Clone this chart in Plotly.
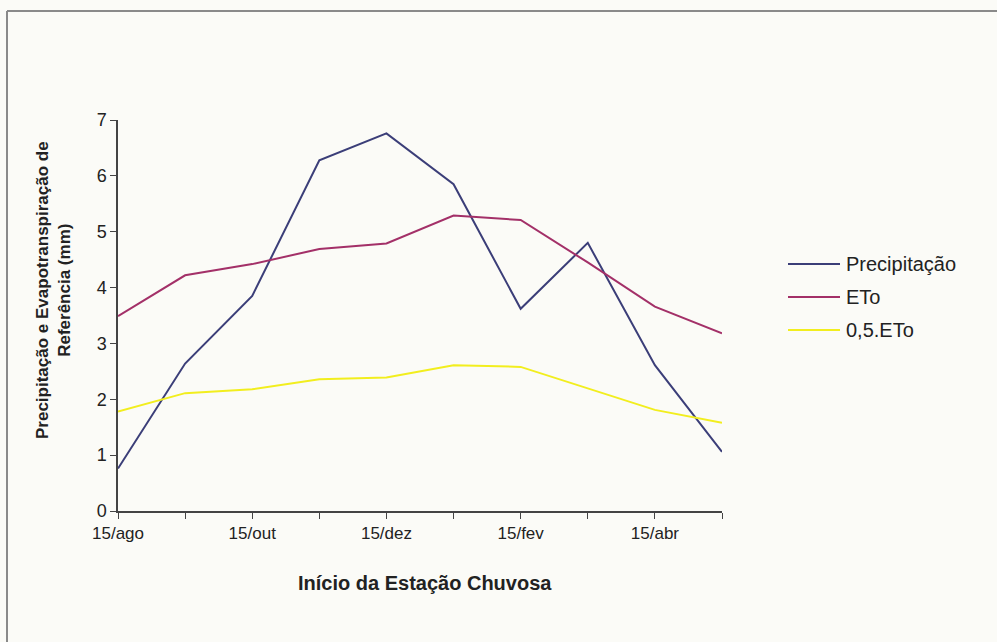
import plotly.graph_objects as go

# Início da estação chuvosa (dia 15 de cada mês)
categorias = ["15/ago", "15/set", "15/out", "15/nov", "15/dez",
              "15/jan", "15/fev", "15/mar", "15/abr", "15/mai"]
rotulos_eixo = ["15/ago", "", "15/out", "", "15/dez", "", "15/fev", "", "15/abr", ""]

precipitacao = [0.76, 2.64, 3.85, 6.28, 6.76, 5.85, 3.62, 4.80, 2.61, 1.06]
eto = [3.49, 4.22, 4.42, 4.69, 4.79, 5.29, 5.21, 4.45, 3.66, 3.18]
meia_eto = [1.78, 2.11, 2.18, 2.36, 2.39, 2.61, 2.58, 2.20, 1.81, 1.58]

posicoes = list(range(len(categorias)))
fonte = "Liberation Sans, Arial, sans-serif"
fundo = "#fbfbf7"
texto = "#222222"

# área de plotagem em pixels
L, R, T, B = 118, 722, 120, 511
W, H = R - L, B - T


def px_x(p):
    return (p - L) / W


def px_y(p):
    return (B - p) / H


series = [
    ("Precipitação", precipitacao, "#3b3e78"),
    ("ETo", eto, "#a33068"),
    ("0,5.ETo", meia_eto, "#f2ee1e"),
]

fig = go.Figure()
for nome, valores, cor in series:
    fig.add_trace(go.Scatter(
        x=posicoes, y=valores, name=nome, mode="lines",
        line=dict(color=cor, width=2), showlegend=False,
    ))

# legenda desenhada à direita do gráfico
formas = []
notas = []
linhas_legenda = [264, 297, 330]
for (nome, _, cor), yl in zip(series, linhas_legenda):
    formas.append(dict(type="line", xref="paper", yref="paper",
                       x0=px_x(788), x1=px_x(840), y0=px_y(yl), y1=px_y(yl),
                       line=dict(color=cor, width=2)))
    notas.append(dict(text=nome, xref="paper", yref="paper",
                      x=px_x(844), y=px_y(yl), showarrow=False,
                      xanchor="left", yanchor="middle",
                      font=dict(family=fonte, size=20, color=texto)))

# moldura (bordas superior e esquerda)
formas += [
    dict(type="line", xref="paper", yref="paper",
         x0=px_x(7), x1=px_x(997), y0=px_y(11), y1=px_y(11),
         line=dict(color="#8a8a8a", width=2)),
    dict(type="line", xref="paper", yref="paper",
         x0=px_x(7), x1=px_x(7), y0=px_y(11), y1=px_y(642),
         line=dict(color="#8a8a8a", width=2)),
]

notas += [
    dict(text="<b>Início da Estação Chuvosa</b>", xref="paper", yref="paper",
         x=px_x(425), y=px_y(583), showarrow=False,
         xanchor="center", yanchor="middle",
         font=dict(family=fonte, size=20, color=texto)),
    dict(text="<b>Precipitação e Evapotranspiração de<br>Referência (mm)</b>",
         xref="paper", yref="paper",
         x=px_x(53), y=px_y(290), showarrow=False,
         textangle=-90, xanchor="center", yanchor="middle",
         font=dict(family=fonte, size=17, color=texto)),
]

fig.update_layout(
    width=997, height=642,
    margin=dict(l=L, r=997 - R, t=T, b=642 - B),
    paper_bgcolor=fundo, plot_bgcolor=fundo,
    font=dict(family=fonte, size=17, color=texto),
    showlegend=False,
    xaxis=dict(
        range=[0, 9], tickmode="array", tickvals=posicoes, ticktext=rotulos_eixo,
        showgrid=False, zeroline=False, showline=True, linecolor="#444444",
        linewidth=1.5, ticks="outside", ticklen=6, tickcolor="#444444",
        tickfont=dict(family=fonte, size=17, color=texto),
    ),
    yaxis=dict(
        range=[0, 7], tickmode="array", tickvals=list(range(8)),
        showgrid=False, zeroline=False, showline=True, linecolor="#444444",
        linewidth=1.5, ticks="outside", ticklen=6, tickcolor="#444444",
        tickfont=dict(family=fonte, size=18, color=texto),
    ),
    annotations=notas,
    shapes=formas,
)

fig.write_html("out.html")
